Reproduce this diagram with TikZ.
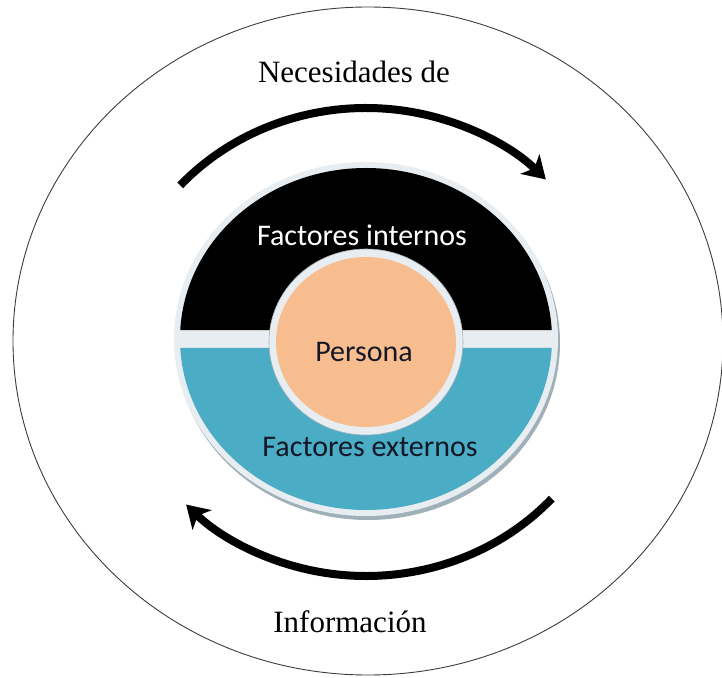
\documentclass[tikz,border=0pt]{standalone}
\usepackage{fontspec}
\setmainfont{Liberation Serif}
\newfontfamily\calibri{Carlito}
\usetikzlibrary{arrows.meta}
\definecolor{ncBlue}{RGB}{75,172,198}
\definecolor{ncOrange}{RGB}{248,189,142}
\definecolor{ncRing}{RGB}{231,237,240}
\definecolor{ncShade}{RGB}{160,176,184}
\definecolor{ncInk}{RGB}{20,24,38}
\definecolor{ncGray}{RGB}{60,60,60}
\tikzset{
    outline/.style={draw=ncGray, line width=0.9pt},
    outerText/.style={font=\fontsize{31}{37}\selectfont, text=black},
    inside/.style={font=\calibri\fontsize{30}{36}\selectfont, align=center},
    flowArc/.style={line width=8pt, -{Stealth[length=22pt, width=27pt, inset=6pt]}}
}
\begin{document}
\begin{tikzpicture}[x=1pt, y=1pt]
  \useasboundingbox (-366,-335) rectangle (356,342);
  % Outer circle
  \draw[outline] (2,1) ellipse (355 and 334);

  % Ring with the two halves
  \begin{scope}[shift={(0,3)}]
    \fill[ncShade] (2,-4) ellipse (192 and 177);
    \fill[ncRing] (0,0) ellipse (192 and 177);
    \fill[black] (177:186 and 171) arc[start angle=177, end angle=3, x radius=186, y radius=171] -- cycle;
    \fill[ncBlue] (-3:186 and 171) arc[start angle=-3, end angle=-177, x radius=186, y radius=171] -- cycle;
  \end{scope}

  % Centre
  \filldraw[fill=ncRing, draw=ncShade, line width=0.6pt] (0,0) ellipse (97 and 93);
  \fill[ncOrange] (0,0) ellipse (90 and 85);

  % Arrows
  \draw[flowArc] (138:250 and 234) arc[start angle=138, end angle=44, x radius=250, y radius=234];
  \draw[flowArc] (-42:250 and 234) arc[start angle=-42, end angle=-136, x radius=250, y radius=234];

  % Labels
  \node[outerText] (necesidades) at (-12,270) {Necesidades de};
  \node[outerText] (informacion) at (-16,-280) {Información};
  \node[inside, text=white] (internos) at (-4,107) {Factores internos};
  \node[inside, text=ncInk] (persona) at (-2,-10) {Persona};
  \node[inside, text=ncInk] (externos) at (4,-105) {Factores externos};
\end{tikzpicture}
\end{document}
